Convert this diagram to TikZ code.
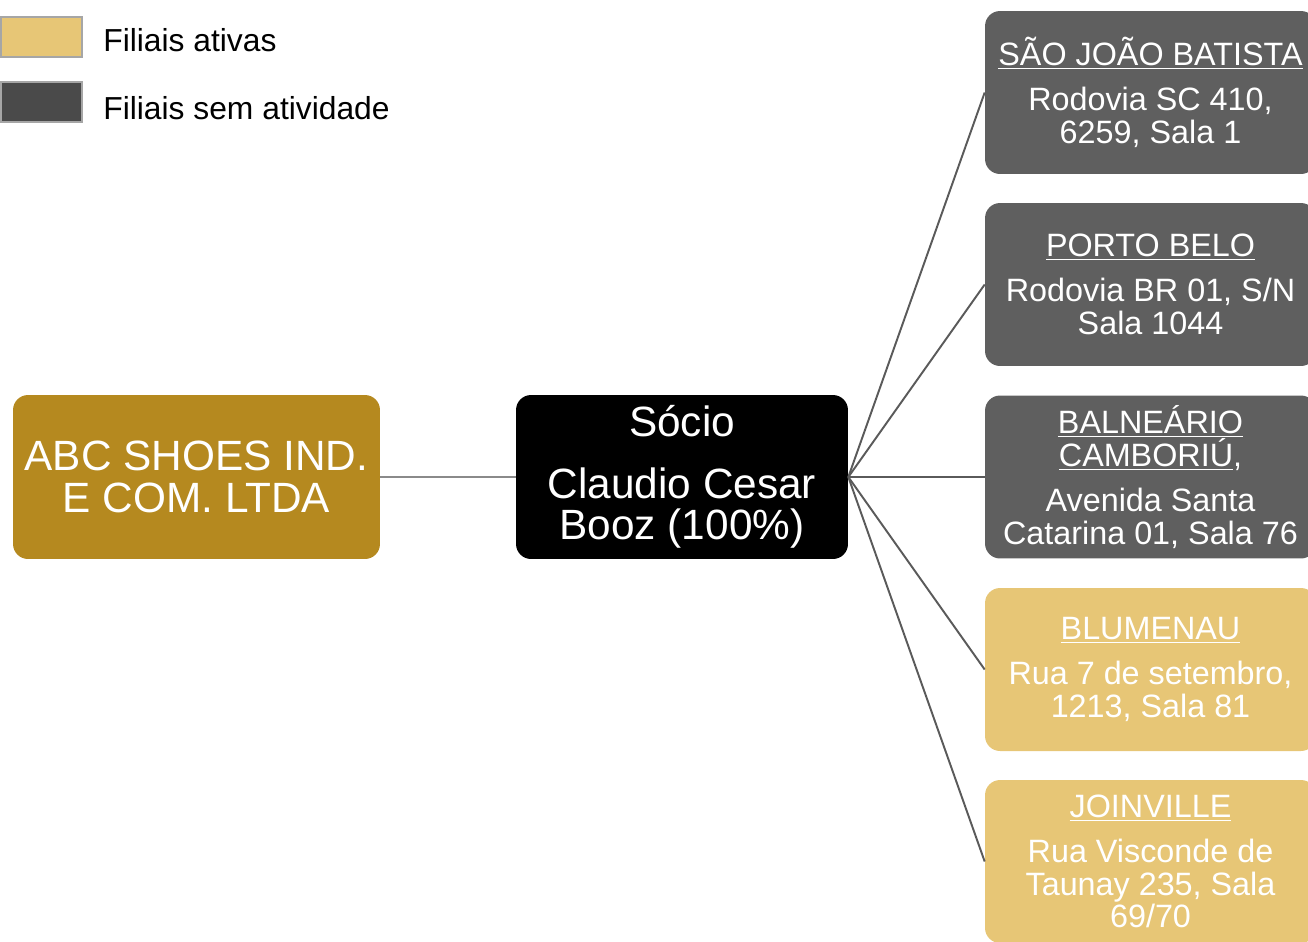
\documentclass[tikz,border=0pt]{standalone}
\usepackage{fontspec}
\setmainfont{Liberation Sans}
\definecolor{darkgold}{HTML}{B5891F}
\definecolor{lightgold}{HTML}{E7C676}
\definecolor{branchgray}{HTML}{5F5F5F}
\definecolor{legenddark}{HTML}{4A4A4A}
\definecolor{legendedge}{HTML}{A6A6A6}
\definecolor{linegray}{HTML}{5A5A5A}
\definecolor{linelight}{HTML}{8A8A8A}
\begin{document}
\begin{tikzpicture}[x=0.02cm,y=-0.02cm,
  bigbox/.style={rounded corners=0.3cm, text=white, align=center, inner sep=0pt,
    minimum height=3.28cm, font=\fontsize{24.1}{23.8}\selectfont},
  branch/.style={rounded corners=0.3cm, text=white, align=center, inner sep=0pt,
    minimum width=6.62cm, minimum height=3.26cm, font=\fontsize{18.4}{18.7}\selectfont},
  inactive/.style={branch, fill=branchgray},
  active/.style={branch, fill=lightgold},
  legendbox/.style={draw=legendedge, line width=1.2pt, minimum width=1.62cm, minimum height=0.8cm, inner sep=0pt},
  legendtext/.style={anchor=west, inner sep=0pt, font=\fontsize{18.1}{18.1}\selectfont},
  conn/.style={draw=linegray, line width=1.1pt},
  connlight/.style={draw=linelight, line width=1.3pt}
]
\useasboundingbox (0,0) rectangle (1308,941);
% legend
\node[legendbox, fill=lightgold] (lg1) at (41.5,37) {};
\node[legendbox, fill=legenddark] (lg2) at (41.5,102) {};
\node[legendtext] (lt1) at (103,40) {Filiais ativas};
\node[legendtext] (lt2) at (103,108) {Filiais sem atividade};
% main nodes
\node[bigbox, fill=darkgold, minimum width=7.34cm] (abc) at (196.5,477) {ABC SHOES IND.\\E COM. LTDA};
\node[bigbox, fill=black, minimum width=6.64cm] (socio) at (682,477) {Sócio\\[11.3pt]Claudio Cesar\\Booz (100\%)};
% branches
\node[inactive] (b1) at (1150.5,92.5) {\underline{SÃO JOÃO BATISTA}\\[6.8pt]Rodovia SC 410,\\6259, Sala 1};
\node[inactive] (b2) at (1150.5,284.5) {\underline{PORTO BELO}\\[6.8pt]Rodovia BR 01, S/N\\Sala 1044};
\node[inactive] (b3) at (1150.5,477) {\underline{BALNEÁRIO}\\\underline{CAMBORIÚ},\\[6.8pt]Avenida Santa\\Catarina 01, Sala 76};
\node[active] (b4) at (1150.5,669.5) {\underline{BLUMENAU}\\[6.8pt]Rua 7 de setembro,\\1213, Sala 81};
\node[active] (b5) at (1150.5,861.5) {\underline{JOINVILLE}\\[6.8pt]Rua Visconde de\\Taunay 235, Sala\\69/70};
% connectors
\draw[connlight] (abc.east) -- (socio.west);
\foreach \b in {b1,b2,b3,b4,b5}{
  \draw[conn] (socio.east) -- (\b.west);
}
\end{tikzpicture}
\end{document}
